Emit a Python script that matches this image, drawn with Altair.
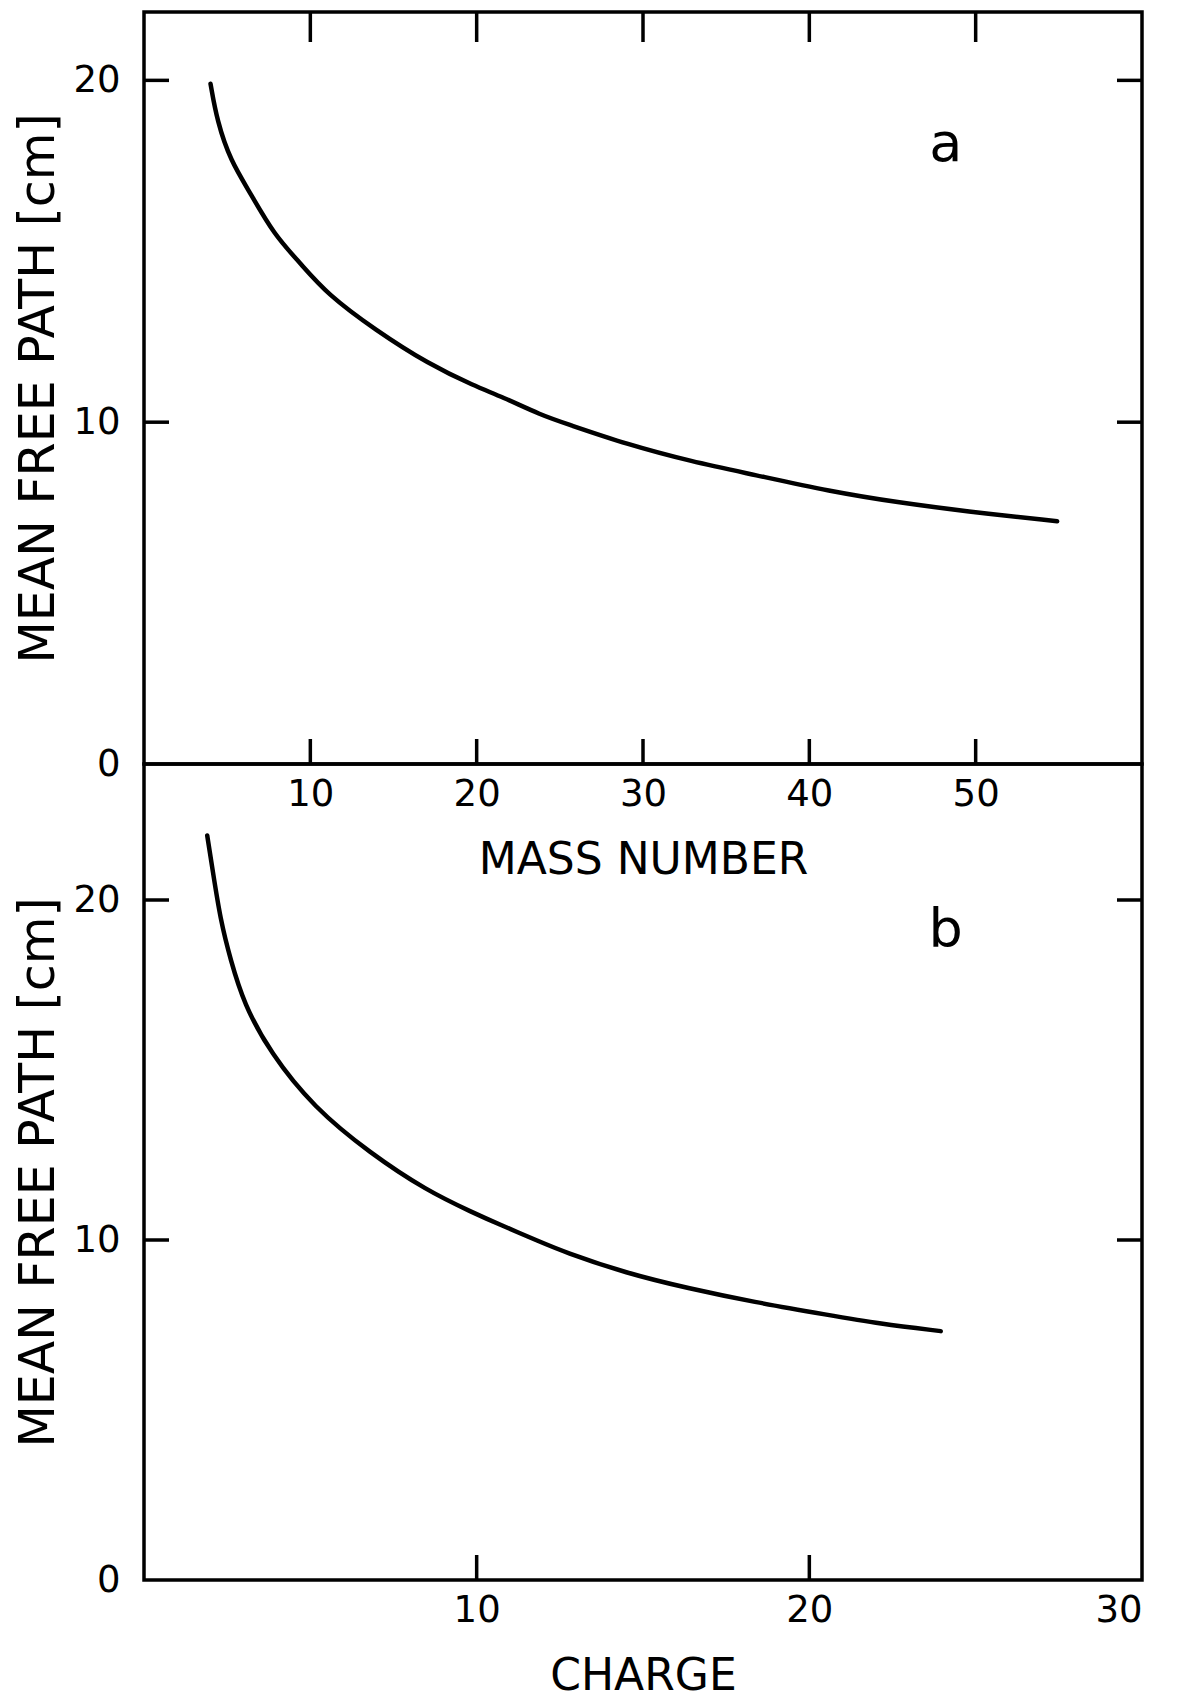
import altair as alt
import pandas as pd

# ---- data ----
mass_a = [4.0, 4.4, 5.2, 6.4, 7.8, 9.4, 11.0, 13.9, 17.1, 19.9, 21.5, 23.9, 25.3,
          29.1, 32.9, 36.7, 41.2, 45.5, 49.3, 54.9]
mfp_a = [19.9, 18.8, 17.65, 16.7, 15.5, 14.65, 13.75, 12.7, 11.7, 11.05, 10.75, 10.2,
         9.97, 9.34, 8.85, 8.46, 7.98, 7.64, 7.40, 7.10]

charge_b = [1.9, 2.06, 2.3, 2.6, 3.0, 3.8, 5.1, 6.8, 8.5, 9.9, 10.7, 11.9, 12.6,
            14.5, 16.4, 18.3, 20.6, 22.1, 23.95]
mfp_b = [21.9, 20.9, 19.4, 18.25, 16.95, 15.5, 13.9, 12.55, 11.45, 10.8, 10.45, 9.95,
         9.66, 9.02, 8.57, 8.18, 7.79, 7.54, 7.32]

y_ticks = [10, 20]
y_labels = [0, 10, 20]
x_ticks_a = [10, 20, 30, 40, 50]
x_labels_a = [10, 20, 30, 40, 50]
x_ticks_b = [10, 20]
x_labels_b = [10, 20, 30]

W = 998
H_A = 752
H_B = 816
FONT = "DejaVu Sans"
TICK = 25
SW = 3.5


def panel(xs, ys, xdom, ydom, xlabels, xtitle, xticks, top_ticks, letter, lx, ly, h):
    xsc = alt.Scale(domain=xdom, nice=False, zero=False)
    ysc = alt.Scale(domain=ydom, nice=False, zero=False)
    xax = alt.Axis(values=xlabels, title=xtitle, labelPadding=12,
                   titlePadding=26, format="d", titleFontSize=44)
    yax = alt.Axis(values=y_labels, title="MEAN FREE PATH [cm]",
                   labelPadding=24, titlePadding=9, format="d", titleFontSize=49)
    df = pd.DataFrame({"x": xs, "y": ys})
    line = alt.Chart(df).mark_line(color="black", strokeWidth=4.5, interpolate="basis",
                                   strokeCap="round").encode(
        x=alt.X("x:Q", scale=xsc, axis=xax),
        y=alt.Y("y:Q", scale=ysc, axis=yax),
    )
    ydf = pd.DataFrame({"v": y_ticks})
    left = alt.Chart(ydf).mark_rule(color="black", strokeWidth=SW).encode(
        y=alt.Y("v:Q", scale=ysc, axis=yax), x=alt.value(0), x2=alt.value(TICK))
    right = alt.Chart(ydf).mark_rule(color="black", strokeWidth=SW).encode(
        y=alt.Y("v:Q", scale=ysc, axis=yax), x=alt.value(W - TICK), x2=alt.value(W))
    xdf = pd.DataFrame({"v": xticks})
    bottom = alt.Chart(xdf).mark_rule(color="black", strokeWidth=SW).encode(
        x=alt.X("v:Q", scale=xsc, axis=xax), y=alt.value(h - TICK), y2=alt.value(h))
    layers = [line, left, right, bottom]
    if top_ticks:
        tdf = pd.DataFrame({"v": top_ticks})
        top = alt.Chart(tdf).mark_rule(color="black", strokeWidth=SW).encode(
            x=alt.X("v:Q", scale=xsc, axis=xax), y=alt.value(0), y2=alt.value(30))
        layers.append(top)
    ldf = pd.DataFrame({"x": [lx], "y": [ly], "t": [letter]})
    txt = alt.Chart(ldf).mark_text(font=FONT, fontSize=54, color="black",
                                   baseline="middle", align="center").encode(
        x=alt.X("x:Q", scale=xsc, axis=xax), y=alt.Y("y:Q", scale=ysc, axis=yax),
        text="t:N")
    layers.append(txt)
    return alt.layer(*layers).properties(width=W, height=h)


top = panel(mass_a, mfp_a, [0, 60], [0, 22], x_labels_a, "MASS NUMBER",
            x_ticks_a, x_ticks_a, "a", 48.2, 18.1, H_A)
bot = panel(charge_b, mfp_b, [0, 30], [0, 24], x_labels_b, "CHARGE",
            x_ticks_b, None, "b", 24.1, 19.1, H_B)

chart = alt.vconcat(top, bot, spacing=0, bounds="flush").properties(
    padding={"left": 5, "top": 0, "right": 5, "bottom": 5}
).configure_axis(
    labelFont=FONT, labelFontSize=37, labelColor="black",
    titleFont=FONT, titleFontWeight="normal", titleColor="black",
    grid=False, ticks=False, domain=False,
).configure_view(stroke="black", strokeWidth=SW)

chart.save("out.html", embed_options={"renderer": "svg", "actions": False})
